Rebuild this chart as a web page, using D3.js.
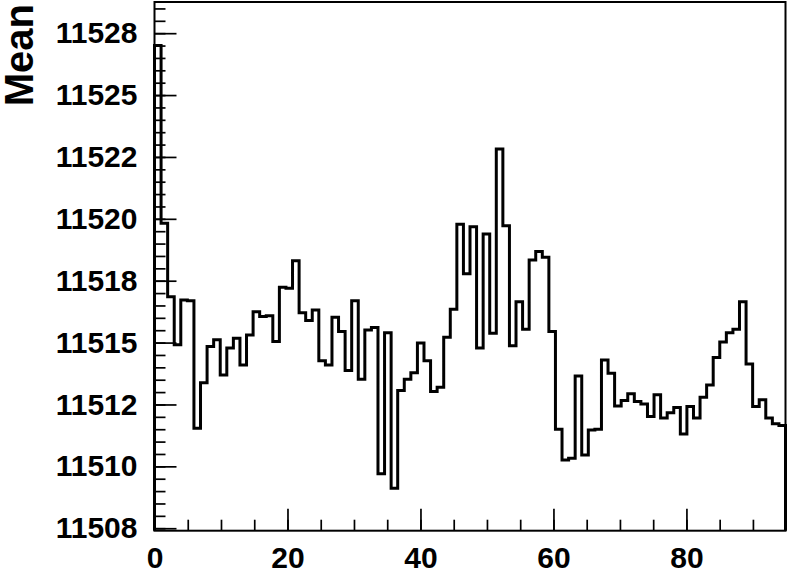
<!DOCTYPE html>
<html>
<head>
<meta charset="utf-8">
<script src="https://cdn.jsdelivr.net/npm/d3@7"></script>
<style>
body { margin: 0; background: #fff; }
text { font-family: "Liberation Sans", Arial, Helvetica, sans-serif; font-weight: bold; }
</style>
</head>
<body>
<div id="chart"></div>
<script>
// mean per bin, 96 bins
var binMeans = [
  11527.00, 11519.82, 11516.85, 11514.91, 11516.72, 11516.69, 11511.54, 11513.38, 11514.84, 11515.11,
  11513.69, 11514.78, 11515.18, 11514.09, 11515.31, 11516.25, 11516.05, 11516.08, 11515.04, 11517.24,
  11517.20, 11518.31, 11516.21, 11515.89, 11516.32, 11514.27, 11514.09, 11516.02, 11515.45, 11513.87,
  11516.69, 11513.52, 11515.51, 11515.61, 11509.70, 11515.40, 11509.12, 11513.06, 11513.52, 11513.78,
  11514.98, 11514.27, 11513.02, 11513.20, 11515.22, 11516.35, 11519.78, 11517.78, 11519.68, 11514.78,
  11519.39, 11515.38, 11522.82, 11519.72, 11514.87, 11516.65, 11515.54, 11518.34, 11518.68, 11518.45,
  11515.45, 11511.50, 11510.26, 11510.33, 11513.65, 11510.46, 11511.47, 11511.50, 11514.30, 11513.76,
  11512.44, 11512.66, 11512.93, 11512.62, 11512.52, 11512.01, 11512.89, 11511.95, 11512.17, 11512.38,
  11511.31, 11512.42, 11511.95, 11512.79, 11513.29, 11514.40, 11515.02, 11515.40, 11515.54, 11516.65,
  11514.13, 11512.42, 11512.69, 11511.95, 11511.72, 11511.65
];
var xMax = 94.9;
var yMin = 11507.4, yMax = 11528.76;

var yTicks = [11507.5, 11510, 11512.5, 11515, 11517.5, 11520, 11522.5, 11525, 11527.5];
var yTickLabels = ["11508", "11510", "11512", "11515", "11518", "11520", "11522", "11525", "11528"];
var xTicks = [0, 20, 40, 60, 80];
var xTickLabels = ["0", "20", "40", "60", "80"];
var yTitle = "Mean";

var svg = d3.select("#chart").append("svg").attr("width", 789).attr("height", 572);

var x = d3.scaleLinear().domain([0, xMax]).range([154.5, 785.5]);
var y = d3.scaleLinear().domain([yMin, yMax]).range([530.7, 2]);

// minor ticks
svg.append("g").attr("transform", "translate(" + x(0) + ",0)")
  .call(d3.axisLeft(y).tickValues(d3.range(11507.5, yMax, 0.5)).tickSize(-11).tickFormat(""))
  .call(function(g) { g.select(".domain").remove(); g.selectAll("line").attr("stroke-width", 1.7); });
svg.append("g").attr("transform", "translate(0," + y(yMin) + ")")
  .call(d3.axisBottom(x).tickValues(d3.range(0, xMax, 5)).tickSize(-11).tickFormat(""))
  .call(function(g) { g.select(".domain").remove(); g.selectAll("line").attr("stroke-width", 1.7); });

// major ticks + labels
svg.append("g").attr("transform", "translate(" + x(0) + ",0)")
  .call(d3.axisLeft(y).tickValues(yTicks).tickSize(-22).tickPadding(17)
    .tickFormat(function(d, i) { return yTickLabels[i]; }))
  .call(function(g) {
    g.select(".domain").remove();
    g.selectAll("line").attr("stroke-width", 1.7);
    g.selectAll("text").attr("font-size", 30).attr("fill", "#000");
  });
svg.append("g").attr("transform", "translate(0," + y(yMin) + ")")
  .call(d3.axisBottom(x).tickValues(xTicks).tickSize(-22).tickPadding(16)
    .tickFormat(function(d, i) { return xTickLabels[i]; }))
  .call(function(g) {
    g.select(".domain").remove();
    g.selectAll("line").attr("stroke-width", 1.7);
    g.selectAll("text").attr("font-size", 30).attr("fill", "#000");
  });

// histogram outline
var bw = xMax / binMeans.length;
var pts = [[x(0), y(yMin)]];
binMeans.forEach(function(v, i) {
  pts.push([x(i * bw), y(v)]);
  pts.push([x((i + 1) * bw), y(v)]);
});
pts.push([x(xMax), y(yMin)]);
svg.append("path").attr("d", d3.line()(pts))
  .attr("fill", "none").attr("stroke", "#000").attr("stroke-width", 3);

// frame
svg.append("rect")
  .attr("x", x(0)).attr("y", y(yMax))
  .attr("width", x(xMax) - x(0)).attr("height", y(yMin) - y(yMax))
  .attr("fill", "none").attr("stroke", "#000").attr("stroke-width", 2);

svg.append("text").attr("transform", "rotate(-90)")
  .attr("x", -4).attr("y", 33)
  .attr("text-anchor", "end").attr("font-size", 40)
  .text(yTitle);
</script>
</body>
</html>
